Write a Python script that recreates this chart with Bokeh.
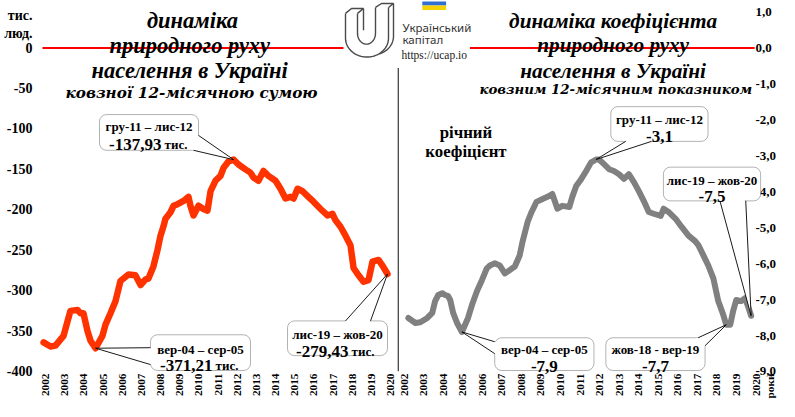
import math
import numpy as np
from bokeh.plotting import figure
from bokeh.layouts import row
from bokeh.models import Range1d, FixedTicker, BoxAnnotation
from bokeh.core.properties import value
from bokeh.embed import file_html
from bokeh.resources import INLINE

# ---------------- data ----------------
years = list(range(2002, 2021))
year_labels = [str(y) for y in years]

left_ticks = [0, -50, -100, -150, -200, -250, -300, -350, -400]
left_tick_labels = ["0", "-50", "-100", "-150", "-200", "-250", "-300", "-350", "-400"]
right_ticks = [1, 0, -1, -2, -3, -4, -5, -6, -7, -8, -9]
right_tick_labels = ["1,0", "0,0", "-1,0", "-2,0", "-3,0", "-4,0", "-5,0",
                     "-6,0", "-7,0", "-8,0", "-9,0"]

# natural increase, rolling 12-month sum, thousand persons (x = start of window)
left_t = [2001.90, 2002.26, 2002.52, 2002.94, 2003.30, 2003.67, 2003.83, 2003.98,
          2004.19, 2004.35, 2004.61, 2004.97, 2005.13, 2005.39, 2005.65, 2005.91,
          2006.07, 2006.33, 2006.69, 2006.96, 2007.22, 2007.37, 2007.63, 2007.84,
          2008.00, 2008.16, 2008.26, 2008.52, 2008.68, 2008.89, 2009.20, 2009.46,
          2009.56, 2009.72, 2009.98, 2010.24, 2010.45, 2010.61, 2010.87, 2011.13,
          2011.29, 2011.55, 2011.81, 2012.07, 2012.43, 2012.69, 2012.85, 2013.11,
          2013.37, 2013.63, 2014.00, 2014.26, 2014.52, 2014.78, 2014.94, 2015.15,
          2015.41, 2015.67, 2015.98, 2016.35, 2016.71, 2016.97, 2017.13, 2017.39,
          2017.65, 2017.91, 2018.07, 2018.33, 2018.59, 2018.85, 2019.06, 2019.37,
          2019.58, 2019.84]
left_v = [-364, -369, -368, -356, -325, -324, -328, -328,
          -350, -362, -371.21, -356, -342, -328, -313, -288,
          -285, -280, -281, -293, -286, -285, -270, -250,
          -232, -220, -211, -203, -195, -193, -189, -184,
          -195, -207, -195, -199, -201, -177, -164, -158,
          -148, -140, -137.93, -144, -150, -154, -160, -164,
          -152, -158, -164, -174, -186, -184, -186, -174,
          -177, -183, -190, -199, -207, -205, -213, -221,
          -232, -244, -272, -281, -289, -287, -264, -262,
          -269, -279.43]

# natural increase rate, rolling 12-month
right_t = [2002.25, 2002.61, 2002.86, 2003.22, 2003.47, 2003.62, 2003.78, 2003.98,
           2004.13, 2004.28, 2004.39, 2004.54, 2004.74, 2004.99, 2005.15, 2005.30,
           2005.50, 2005.76, 2006.01, 2006.26, 2006.42, 2006.67, 2006.92, 2007.18,
           2007.43, 2007.69, 2007.94, 2008.09, 2008.35, 2008.55, 2008.80, 2009.11,
           2009.36, 2009.61, 2009.87, 2010.12, 2010.48, 2010.63, 2010.83, 2011.09,
           2011.34, 2011.59, 2011.85, 2012.00, 2012.25, 2012.51, 2012.76, 2013.02,
           2013.27, 2013.52, 2013.78, 2014.03, 2014.28, 2014.54, 2014.79, 2015.15,
           2015.30, 2015.55, 2015.91, 2016.21, 2016.57, 2016.92, 2017.08, 2017.33,
           2017.58, 2017.84, 2018.09, 2018.35, 2018.50, 2018.70, 2018.85, 2019.01,
           2019.26, 2019.46, 2019.61, 2019.77]
right_v = [-7.51, -7.65, -7.63, -7.51, -7.37, -7.04, -6.87, -6.82,
           -6.87, -6.90, -7.01, -7.37, -7.65, -7.90, -7.70, -7.51,
           -7.15, -6.76, -6.46, -6.13, -6.05, -5.99, -6.05, -6.27,
           -6.18, -6.08, -5.77, -5.38, -4.83, -4.56, -4.28, -4.20,
           -4.14, -4.06, -4.47, -4.39, -4.42, -4.14, -3.84, -3.64,
           -3.42, -3.18, -3.10, -3.10, -3.23, -3.37, -3.42, -3.51,
           -3.64, -3.51, -3.73, -3.98, -4.25, -4.56, -4.61, -4.67,
           -4.47, -4.56, -4.75, -4.97, -5.22, -5.38, -5.49, -5.77,
           -6.05, -6.41, -7.04, -7.43, -7.70, -7.70, -7.32, -7.01,
           -7.04, -6.96, -7.18, -7.45]

left_title = ["динаміка", "природного  руху", "населення  в Україні"]
left_subtitle = "ковзної 12-місячною сумою"
right_title = ["динаміка  коефіцієнта", "природного  руху", "населення  в Україні"]
right_subtitle = "ковзним 12-місячним показником"
left_unit = ["тис.", "люд."]
right_unit = "роки"
right_series_label = ["річний", "коефіцієнт"]

left_callouts = [
    ("гру-11 – лис-12", "-137,93", "тис."),
    ("вер-04 – сер-05", "-371,21", "тис."),
    ("лис-19 – жов-20", "-279,43", "тис."),
]
right_callouts = [
    ("гру-11 – лис-12", "-3,1"),
    ("лис-19 – жов-20", "-7,5"),
    ("вер-04 – сер-05", "-7,9"),
    ("жов-18 - вер-19", "-7,7"),
]
logo_text = ["Український", "капітал", "https://ucap.io"]

# ---------------- layout (pixel positions of the original picture) ----------------
W, H = 779, 401
SERIF = "Liberation Serif"
TSERIF = "DejaVu Serif"
SANS = "Noto Sans"


def lx(xr):
    return 2002 + (xr - 45) / 19.17


def ly(yr):
    return (48 - yr) * 400 / 326


def rx(xr):
    return 2002 + (xr - 403) / 19.72


def ry(yr):
    return (48 - yr) / 36.22


WL = 397
WR = W - WL
FRAME_BOTTOM = 374
L_LEFT = 38

# unit captions shown as extra ticks in the axis columns
left_unit_ticks = [round(ly(15), 2), round(ly(33), 2)]
right_unit_tick = round(rx(773), 2)


def style_common(p, x_ticks, x_labels):
    p.outline_line_color = None
    p.xgrid.visible = False
    p.ygrid.visible = False
    p.background_fill_color = "white"
    p.border_fill_color = "white"
    for ax in p.axis:
        ax.axis_line_color = None
        ax.major_tick_line_color = None
        ax.minor_tick_line_color = None
        ax.major_tick_out = 0
        ax.major_tick_in = 0
        ax.minor_tick_out = 0
        ax.major_label_text_font = SERIF
        ax.major_label_text_font_style = "bold"
        ax.major_label_text_color = "black"
    p.xaxis.ticker = FixedTicker(ticks=x_ticks)
    p.xaxis.major_label_overrides = {t: l for t, l in zip(x_ticks, x_labels)}
    p.xaxis.major_label_orientation = math.pi / 2
    p.xaxis.major_label_text_font_size = "11.3px"
    p.xaxis.major_label_standoff = 2


def ttext(p, x, y, txt, size, font=SERIF, style="bold italic", align="center",
          color="black", level="glyph"):
    p.text([x], [y], text=[txt], text_font=value(font), text_font_style=style,
           text_font_size=f"{size}px", text_align=align, text_baseline="alphabetic",
           text_color=color, level=level)


# ---------------- left figure ----------------
pl = figure(width=WL, height=H, x_range=Range1d(lx(L_LEFT), lx(WL)),
            y_range=Range1d(ly(FRAME_BOTTOM), ly(0)), output_backend="svg",
            toolbar_location=None, min_border=0, min_border_left=L_LEFT,
            min_border_right=0, min_border_top=0, min_border_bottom=H - FRAME_BOTTOM)
style_common(pl, years, year_labels)
lyt = left_ticks + left_unit_ticks
lyl = left_tick_labels + left_unit
pl.yaxis.ticker = FixedTicker(ticks=lyt)
pl.yaxis.major_label_overrides = {t: l for t, l in zip(lyt, lyl)}
pl.yaxis.major_label_standoff = 6
pl.yaxis.major_label_text_font_size = "14px"

pl.line([lx(42), lx(343)], [0, 0], line_color="#FF0000", line_width=2)
pl.line(left_t, left_v, line_color="#FF3300", line_width=6.5,
        line_join="round", line_cap="round")

for txt, yb in zip(left_title, [20, 45, 71]):
    ttext(pl, lx(192), ly(yb), txt, 22.5)
ttext(pl, lx(191), ly(93), left_subtitle, 15.2, font=TSERIF)


def lpath(pts):
    return [lx(a) for a, b in pts], [ly(b) for a, b in pts]


def arc(cx, cy, rxr, ryr, a0, a1, n=30):
    th = np.linspace(a0, a1, n)
    return [(cx + rxr * math.cos(t), cy + ryr * math.sin(t)) for t in th]


u_paths = [
    [(345, 13), (345, 38)] + arc(366.5, 38, 21.5, 19, math.pi, 0) + [(388, 7)],
    [(357, 13), (357, 33)] + arc(366, 33, 9, 11, math.pi, 0) + [(375, 7)],
    [(345, 13), (351, 8), (363, 8), (357, 13)],
    [(375, 7), (381, 3), (393, 3), (388, 7)],
    [(363, 8), (363, 30)],
    [(393, 3), (393, 36)] + arc(371.5, 36, 21.5, 19, 0, math.pi / 2.6),
]
uxs, uys = zip(*[lpath(pth) for pth in u_paths])
pl.multi_line(list(uxs), list(uys), line_color="#4a4a4a", line_width=1.4)

# ---------------- right figure ----------------
pr = figure(width=WR, height=H, x_range=Range1d(rx(WL), rx(W)),
            y_range=Range1d(ry(FRAME_BOTTOM), ry(0)), output_backend="svg",
            toolbar_location=None, y_axis_location="right", min_border=0,
            min_border_left=0, min_border_right=0,
            min_border_top=0, min_border_bottom=H - FRAME_BOTTOM)
style_common(pr, years + [right_unit_tick], year_labels + [right_unit])
pr.yaxis.ticker = FixedTicker(ticks=right_ticks)
pr.yaxis.major_label_overrides = {t: l for t, l in zip(right_ticks, right_tick_labels)}
pr.yaxis.major_label_standoff = -21
pr.yaxis.major_label_text_font_size = "13px"

pr.line([rx(470), rx(757)], [0, 0], line_color="#FF0000", line_width=2)
pr.line(right_t, right_v, line_color="#808080", line_width=6,
        line_join="round", line_cap="round")
pr.line([rx(397.6), rx(397.6)], [ry(68), ry(FRAME_BOTTOM)], line_color="black",
        line_width=1.2)

for txt, yb in zip(right_title, [21, 45, 71]):
    ttext(pr, rx(617), ry(yb), txt, 21.3)
ttext(pr, rx(617), ry(90), right_subtitle, 13.3, font=TSERIF)
for txt, yb in zip(right_series_label, [133, 152]):
    ttext(pr, rx(466), ry(yb), txt, 16.8, style="bold")

pr.quad(left=[rx(422)], right=[rx(446)], top=[ry(1)], bottom=[ry(5)],
        fill_color="#2F6FD0", line_color=None)
pr.quad(left=[rx(422)], right=[rx(446)], top=[ry(5)], bottom=[ry(9.5)],
        fill_color="#F6D200", line_color=None)
ttext(pr, rx(402), ry(27), logo_text[0], 11.5, font=SANS, style="normal",
      align="left", color="#333333")
ttext(pr, rx(402), ry(39), logo_text[1], 11.5, font=SANS, style="normal",
      align="left", color="#333333")
ttext(pr, rx(401), ry(55), logo_text[2], 11.5, style="normal", align="left",
      color="#222222")


# ---------------- callouts ----------------
def callout(p, fx, fy, box, base, tip, line1, num, unit=None, num_split=None,
            y1=None, y2=None):
    l, r, t, b = box
    p.add_layout(BoxAnnotation(left=fx(l), right=fx(r), top=fy(t), bottom=fy(b),
                               fill_color="white", fill_alpha=1.0,
                               line_color="black", line_width=1, border_radius=7))
    cx, cy = (l + r) / 2, (t + b) / 2
    (b1x, b1y), (b2x, b2y) = base
    tx, ty = tip
    p.patch([fx(b1x), tx, fx(b2x), fx(cx)], [fy(b1y), ty, fy(b2y), fy(cy)],
            fill_color="white", line_color=None, level="overlay")
    p.multi_line([[fx(b1x), tx], [fx(b2x), tx]], [[fy(b1y), ty], [fy(b2y), ty]],
                 line_color="black", line_width=0.9, level="overlay")
    ttext(p, fx(cx), fy(y1), line1, 13, style="bold", level="overlay")
    if unit is None:
        ttext(p, fx(cx), fy(y2), num, 17, style="bold", level="overlay")
    else:
        ttext(p, fx(num_split), fy(y2), num, 17, style="bold", align="right",
              level="overlay")
        ttext(p, fx(num_split + 3), fy(y2), unit, 13, style="bold", align="left",
              level="overlay")


lt, lv = np.array(left_t), np.array(left_v)
rt, rv = np.array(right_t), np.array(right_v)
i_lmax = int(np.argmax(lv))
i_lmin = int(np.argmin(lv))
i_rmax = int(np.argmax(rv))
i_rmin_early = int(np.argmin(np.where(rt < 2010, rv, 0)))
i_rmin_late = int(np.argmin(np.where(rt > 2015, rv, 0)))

callout(pl, lx, ly, (99, 198, 115, 151), ((198, 136), (193, 151)),
        (lt[i_lmax], lv[i_lmax]), *left_callouts[0], num_split=161, y1=127, y2=145)
callout(pl, lx, ly, (150, 250, 337, 373), ((150, 350), (150, 367)),
        (lt[i_lmin], lv[i_lmin]), *left_callouts[1], num_split=212, y1=352, y2=368)
callout(pl, lx, ly, (287, 387, 323, 358), ((345, 323), (370, 323)),
        (lt[-1], lv[-1]), *left_callouts[2], num_split=348, y1=337, y2=354)

callout(pr, rx, ry, (612, 710, 107, 142), ((627, 142), (653, 142)),
        (rt[i_rmax], rv[i_rmax]), *right_callouts[0], y1=120, y2=137)
callout(pr, rx, ry, (665, 763, 168, 202), ((722, 202), (748, 202)),
        (rt[-1], rv[-1]), *right_callouts[1], y1=181, y2=198)
callout(pr, rx, ry, (495, 595, 340, 373), ((495, 344), (495, 356)),
        (rt[i_rmin_early], rv[i_rmin_early]), *right_callouts[2], y1=352, y2=369)
callout(pr, rx, ry, (607, 707, 340, 373), ((707, 348), (700, 340)),
        (rt[i_rmin_late], rv[i_rmin_late]), *right_callouts[3], y1=352, y2=369)

layout = row(pl, pr, spacing=0)
open("out.html", "w").write(file_html(layout, INLINE))
